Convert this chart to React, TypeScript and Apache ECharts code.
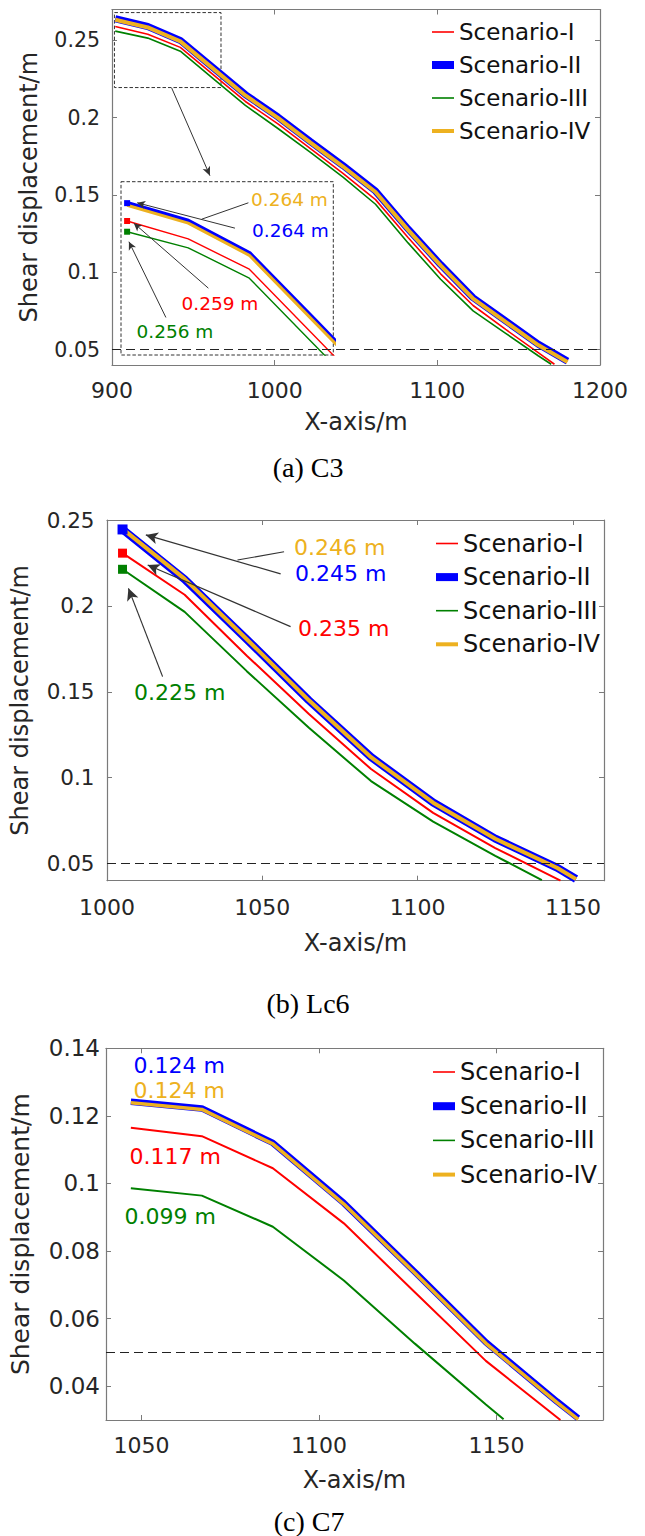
import React, { useEffect, useRef } from "react";
import * as echarts from "echarts";

// ---------- colours & names ----------
const RED = "#FF0000";
const BLUE = "#0000FF";
const GREEN = "#008000";
const ORANGE = "#EDB120";
const NAMES = ["Scenario-I", "Scenario-II", "Scenario-III", "Scenario-IV"];

// ---------- panel (a) C3 ----------
const aX_I = [902, 922, 942, 962, 982, 1002, 1022, 1042, 1062, 1082, 1102, 1122, 1142, 1162, 1172];
const aY_I = [0.259, 0.254, 0.2455, 0.228, 0.2105, 0.196, 0.18, 0.164, 0.147, 0.1225, 0.099, 0.0785, 0.063, 0.048, 0.0405];
const aX_II = [902, 922, 942, 962, 982, 1002, 1022, 1042, 1062, 1082, 1102, 1122, 1142, 1162, 1180];
const aY_II = [0.264, 0.259, 0.25, 0.2325, 0.215, 0.2005, 0.1845, 0.169, 0.1525, 0.128, 0.105, 0.0835, 0.0685, 0.0535, 0.0425];
const aX_III = [902, 922, 942, 962, 982, 1002, 1022, 1042, 1062, 1082, 1102, 1122, 1142, 1162, 1170];
const aY_III = [0.256, 0.2515, 0.243, 0.2255, 0.208, 0.193, 0.1775, 0.1615, 0.144, 0.119, 0.0955, 0.075, 0.0605, 0.046, 0.0405];
const aX_IV = [902, 922, 942, 962, 982, 1002, 1022, 1042, 1062, 1082, 1102, 1122, 1142, 1162, 1180];
const aY_IV = [0.2634, 0.2584, 0.2494, 0.2319, 0.2144, 0.1999, 0.1839, 0.1684, 0.1519, 0.1274, 0.1044, 0.0829, 0.0679, 0.0529, 0.0419];
const aXTicks = [900, 1000, 1100, 1200];
const aYTicks = [0.05, 0.1, 0.15, 0.2, 0.25];
const aLabels = ["0.264 m", "0.264 m", "0.259 m", "0.256 m"];
const aThreshold = 0.05;

// ---------- panel (b) Lc6 ----------
const bX_I = [1005, 1025, 1045, 1065, 1085, 1105, 1125, 1146];
const bY_I = [0.2307, 0.2065, 0.171, 0.137, 0.105, 0.0795, 0.059, 0.04];
const bX_II = [1005, 1025, 1045, 1065, 1085, 1105, 1125, 1145, 1151];
const bY_II = [0.2445, 0.2155, 0.1805, 0.145, 0.112, 0.0855, 0.0645, 0.0475, 0.041];
const bX_III = [1005, 1025, 1045, 1065, 1085, 1105, 1125, 1140];
const bY_III = [0.2213, 0.1965, 0.162, 0.129, 0.098, 0.0744, 0.0545, 0.0403];
const bX_IV = [1005, 1025, 1045, 1065, 1085, 1105, 1125, 1145, 1151];
const bY_IV = [0.2448, 0.2157, 0.1806, 0.145, 0.1119, 0.0854, 0.0644, 0.0474, 0.0409];
const bXTicks = [1000, 1050, 1100, 1150];
const bYTicks = [0.05, 0.1, 0.15, 0.2, 0.25];
const bLabels = ["0.246 m", "0.245 m", "0.235 m", "0.225 m"];
const bThreshold = 0.05;

// ---------- panel (c) C7 ----------
const cX_I = [1047, 1067, 1087, 1107, 1127, 1147, 1168];
const cY_I = [0.1165, 0.114, 0.1045, 0.0882, 0.0678, 0.0475, 0.03];
const cX_II = [1047, 1067, 1087, 1107, 1127, 1147, 1167, 1173];
const cY_II = [0.1242, 0.1222, 0.112, 0.0942, 0.0738, 0.053, 0.0355, 0.0305];
const cX_III = [1047, 1067, 1087, 1107, 1127, 1147, 1152];
const cY_III = [0.0986, 0.0964, 0.0872, 0.0713, 0.0526, 0.0346, 0.0302];
const cX_IV = [1047, 1067, 1087, 1107, 1127, 1147, 1167, 1173];
const cY_IV = [0.1239, 0.1219, 0.1117, 0.0939, 0.0735, 0.0527, 0.0352, 0.0302];
const cXTicks = [1050, 1100, 1150];
const cYTicks = [0.04, 0.06, 0.08, 0.1, 0.12, 0.14];
const cLabels = ["0.124 m", "0.124 m", "0.117 m", "0.099 m"];
const cThreshold = 0.0493;

const CAPTIONS = ["(a) C3", "(b) Lc6", "(c) C7"];
const X_NAME = "X-axis/m";
const Y_NAME = "Shear displacement/m";

// ---------- style helpers ----------
const FONT = "DejaVu Sans";
const SERIF = "Liberation Serif";
const AXIS_GRAY = "#7a7a7a";
const TXT = "#262626";
const fmtY = (v: number) => String(Number(v.toFixed(4)));
const fmtX = (v: number) => String(Math.round(v));

function lineSeries(name: string, xs: number[], ys: number[], color: string, width: number, axis: number, marker = 0) {
  return {
    type: "line",
    name,
    xAxisIndex: axis,
    yAxisIndex: axis,
    data: xs.map((x, i) =>
      i === 0 && marker > 0 ? { value: [x, ys[i]], symbol: "rect", symbolSize: marker } : [x, ys[i]]
    ),
    symbol: "none",
    showSymbol: true,
    color,
    lineStyle: { color, width },
    itemStyle: { color, borderWidth: 0 },
    emphasis: { disabled: true },
    silent: true,
    clip: true,
  };
}

function xBottom(grid: number, min: number, max: number, ticks: number[], size: number, margin: number, nameGap: number) {
  return {
    type: "value", gridIndex: grid, min, max, position: "bottom",
    name: X_NAME, nameLocation: "middle", nameGap,
    nameTextStyle: { fontFamily: FONT, fontSize: 24, color: TXT },
    axisLine: { show: true, onZero: false, lineStyle: { color: AXIS_GRAY, width: 1.2 } },
    axisTick: { show: true, inside: true, length: 5, customValues: ticks, lineStyle: { color: AXIS_GRAY } },
    axisLabel: { show: true, customValues: ticks, margin, fontFamily: FONT, fontSize: size, color: TXT, formatter: fmtX },
    splitLine: { show: false },
  };
}
function xTop(grid: number, min: number, max: number, ticks: number[]) {
  return {
    type: "value", gridIndex: grid, min, max, position: "top",
    axisLine: { show: true, onZero: false, lineStyle: { color: AXIS_GRAY, width: 1.2 } },
    axisTick: { show: true, inside: true, length: 5, customValues: ticks, lineStyle: { color: AXIS_GRAY } },
    axisLabel: { show: false },
    splitLine: { show: false },
  };
}
function yLeft(grid: number, min: number, max: number, ticks: number[], size: number, margin: number, nameGap: number, nameSize: number) {
  return {
    type: "value", gridIndex: grid, min, max, position: "left",
    name: Y_NAME, nameLocation: "middle", nameGap, nameRotate: 90,
    nameTextStyle: { fontFamily: FONT, fontSize: nameSize, color: TXT },
    axisLine: { show: true, onZero: false, lineStyle: { color: AXIS_GRAY, width: 1.2 } },
    axisTick: { show: true, inside: true, length: 5, customValues: ticks, lineStyle: { color: AXIS_GRAY } },
    axisLabel: { show: true, customValues: ticks, margin, fontFamily: FONT, fontSize: size, color: TXT, formatter: fmtY },
    splitLine: { show: false },
  };
}
function yRight(grid: number, min: number, max: number, ticks: number[]) {
  return {
    type: "value", gridIndex: grid, min, max, position: "right",
    axisLine: { show: true, onZero: false, lineStyle: { color: AXIS_GRAY, width: 1.2 } },
    axisTick: { show: true, inside: true, length: 5, customValues: ticks, lineStyle: { color: AXIS_GRAY } },
    axisLabel: { show: false },
    splitLine: { show: false },
  };
}

const LEGEND_ICONS = [
  "path://M0,0H22V1.6H0Z",
  "path://M0,0H22V8H0Z",
  "path://M0,0H22V1.6H0Z",
  "path://M0,0H22V4H0Z",
];
function legend(left: number, top: number, size: number, gap: number) {
  return {
    orient: "vertical", left, top, itemWidth: 22, itemHeight: 9, itemGap: gap,
    selectedMode: false, symbolKeepAspect: true,
    itemStyle: { borderWidth: 0 },
    textStyle: { fontFamily: FONT, fontSize: size, color: "#111", lineHeight: 24 },
    data: NAMES.map((n, i) => ({ name: n, icon: LEGEND_ICONS[i] })),
  };
}

function arrow(from: number[], to: number[], head: number[]) {
  return [
    { coord: from, symbol: "none" },
    { coord: to, symbol: "arrow", symbolSize: head },
  ];
}
function plainLine(from: number[], to: number[]) {
  return [
    { coord: from, symbol: "none" },
    { coord: to, symbol: "none" },
  ];
}

function helper(axis: number, markLineData: any[], markAreaData: any[] | null, arrowWidth: number) {
  const s: any = {
    type: "line", name: "helper-" + axis, xAxisIndex: axis, yAxisIndex: axis, data: [],
    silent: true, clip: false, symbol: "none",
    markLine: {
      silent: true, symbol: ["none", "none"], label: { show: false }, emphasis: { disabled: true },
      lineStyle: { color: "#333", width: arrowWidth, type: "solid" },
      data: markLineData,
    },
  };
  if (markAreaData) {
    s.markArea = {
      silent: true, label: { show: false }, emphasis: { disabled: true },
      itemStyle: { color: "rgba(0,0,0,0)", borderColor: "#333", borderWidth: 1, borderType: [3.5, 2] },
      data: markAreaData,
    };
  }
  return s;
}

function thresholdItem(v: number) {
  return { yAxis: v, symbol: "none", lineStyle: { color: "#222", width: 1, type: [9, 5] } };
}

function txt(text: string, x: number, y: number, color: string, size: number, family = FONT, align = "left") {
  return {
    type: "text", x, y, z: 100, silent: true,
    style: {
      text, fill: color, fontSize: size, fontFamily: family,
      align, verticalAlign: "middle", textAlign: align, textVerticalAlign: "middle",
    },
  };
}

function buildOption() {
  const series: any[] = [
    // panel a main (axis 0)
    lineSeries(NAMES[0], aX_I, aY_I, RED, 1.6, 0),
    lineSeries(NAMES[1], aX_II, aY_II, BLUE, 7, 0),
    lineSeries(NAMES[2], aX_III, aY_III, GREEN, 1.6, 0),
    lineSeries(NAMES[3], aX_IV, aY_IV, ORANGE, 4, 0),
    // panel a inset (axis 1)
    lineSeries(NAMES[0], aX_I, aY_I, RED, 1.4, 1, 6),
    lineSeries(NAMES[1], aX_II, aY_II, BLUE, 4.5, 1, 6),
    lineSeries(NAMES[2], aX_III, aY_III, GREEN, 1.4, 1, 6),
    lineSeries(NAMES[3], aX_IV, aY_IV, ORANGE, 3, 1),
    // panel b (axis 2)
    lineSeries(NAMES[0], bX_I, bY_I, RED, 2, 2, 9),
    lineSeries(NAMES[1], bX_II, bY_II, BLUE, 8, 2, 10),
    lineSeries(NAMES[2], bX_III, bY_III, GREEN, 2, 2, 9),
    lineSeries(NAMES[3], bX_IV, bY_IV, ORANGE, 4, 2),
    // panel c (axis 3)
    lineSeries(NAMES[0], cX_I, cY_I, RED, 2, 3),
    lineSeries(NAMES[1], cX_II, cY_II, BLUE, 6.5, 3),
    lineSeries(NAMES[2], cX_III, cY_III, GREEN, 2, 3),
    lineSeries(NAMES[3], cX_IV, cY_IV, ORANGE, 3.6, 3),
    // annotations
    helper(0, [thresholdItem(aThreshold), arrow([936.7, 0.2192], [960.2, 0.1625], [6, 9])],
      [[{ coord: [901.5, 0.268] }, { coord: [967, 0.2195] }]], 1),
    helper(1, [
      arrow([937.3, 0.257], [905.3, 0.2641], [6, 8]),
      plainLine([941.7, 0.2641], [926.4, 0.2595]),
      arrow([928.6, 0.2402], [904.2, 0.2584], [6, 8]),
      arrow([914.7, 0.232], [902.6, 0.2532], [6, 8]),
    ], [[{ coord: [900, 0.27] }, { coord: [969.5, 0.2215] }]], 1),
    helper(2, [
      thresholdItem(bThreshold),
      arrow([1055.9, 0.2186], [1012.5, 0.2413], [9, 12]),
      plainLine([1057, 0.2315], [1042, 0.2267]),
      arrow([1059.1, 0.1879], [1013.1, 0.2238], [9, 12]),
      arrow([1017.9, 0.1588], [1006.9, 0.2102], [9, 12]),
    ], null, 1.2),
    helper(3, [thresholdItem(cThreshold)], null, 1),
  ];

  const graphic: any[] = [
    txt(aLabels[0], 251, 199, ORANGE, 18.5),
    txt(aLabels[1], 252, 230, BLUE, 18.5),
    txt(aLabels[2], 181.5, 303, RED, 18.5),
    txt(aLabels[3], 136.5, 331.5, GREEN, 18.5),
    txt(bLabels[0], 294, 547, ORANGE, 22),
    txt(bLabels[1], 295, 573, BLUE, 22),
    txt(bLabels[2], 298, 628, RED, 22),
    txt(bLabels[3], 134, 692, GREEN, 22),
    txt(cLabels[0], 133.5, 1065, BLUE, 22),
    txt(cLabels[1], 133.5, 1090, ORANGE, 22),
    txt(cLabels[2], 129.5, 1156, RED, 22),
    txt(cLabels[3], 124.5, 1216, GREEN, 22),
    txt(CAPTIONS[0], 308, 467, "#000", 28, SERIF, "center"),
    txt(CAPTIONS[1], 308, 1003, "#000", 28, SERIF, "center"),
    txt(CAPTIONS[2], 309, 1521, "#000", 28, SERIF, "center"),
  ];

  return {
    animation: false,
    backgroundColor: "#ffffff",
    grid: [
      { left: 112, top: 9.5, width: 488, height: 355.5, containLabel: false },
      { left: 121, top: 181.7, width: 212.3, height: 173.3, containLabel: false },
      { left: 106, top: 520, width: 498, height: 360.7, containLabel: false },
      { left: 106, top: 1048.3, width: 497, height: 371.7, containLabel: false },
    ],
    xAxis: [
      xBottom(0, 900, 1200, aXTicks, 22, 14, 45),
      { type: "value", gridIndex: 1, min: 900, max: 969.5, show: false },
      xBottom(2, 1000, 1160, bXTicks, 22, 16, 50),
      xBottom(3, 1040, 1180, cXTicks, 22, 14, 48),
      xTop(0, 900, 1200, aXTicks),
      xTop(2, 1000, 1160, bXTicks),
      xTop(3, 1040, 1180, cXTicks),
    ],
    yAxis: [
      yLeft(0, 0.04, 0.27, aYTicks, 20.5, 12, 71, 24),
      { type: "value", gridIndex: 1, min: 0.2215, max: 0.27, show: false },
      yLeft(2, 0.04, 0.25, bYTicks, 21.5, 12.5, 75, 24),
      yLeft(3, 0.03, 0.14, cYTicks, 23, 6, 73, 25),
      yRight(0, 0.04, 0.27, aYTicks),
      yRight(2, 0.04, 0.25, bYTicks),
      yRight(3, 0.03, 0.14, cYTicks),
    ],
    legend: [legend(427, 15, 23, 9), legend(431, 526.5, 24, 9.6), legend(428, 1055, 24, 10.2)],
    series,
    graphic,
  };
}

export default function App() {
  const ref = useRef<HTMLDivElement>(null);
  useEffect(() => {
    if (!ref.current) return;
    const chart = echarts.init(ref.current, null, { renderer: "svg" });
    chart.setOption(buildOption() as any);
    return () => chart.dispose();
  }, []);
  return (
    <div
      ref={ref}
      style={{ position: "absolute", left: 0, top: 0, width: 645, height: 1536, background: "#fff" }}
    />
  );
}
